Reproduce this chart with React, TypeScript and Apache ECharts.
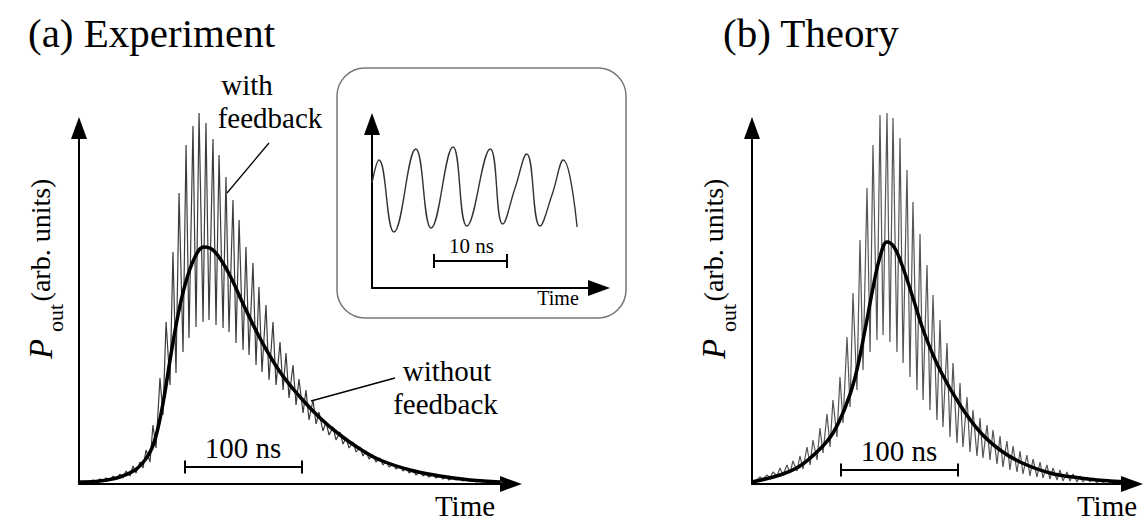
import React, { useEffect, useRef } from "react";
import * as echarts from "echarts";

const FONT = "'Liberation Serif', 'Times New Roman', serif";

// ---------- Panel (a) Experiment : time [ns], P_out [arb. units] ----------
const expTimeMax = 369.2;
const expPowerMax = 89;

// thick curve: without feedback
const expWithoutFeedback: [number, number][] = [
  [0.9, 0.5], [17.9, 0.75], [35.0, 1.75], [47.9, 3.5], [56.4, 6], [62.4, 9], [67.5, 14],
  [72.6, 21.5], [77.8, 31], [83.8, 41], [90.6, 49.75], [99.1, 56.75], [106.8, 59.25],
  [115.4, 58.25], [127.4, 53], [141.9, 44], [156.4, 35.5], [171.8, 28], [188.9, 21.75],
  [206.0, 16.5], [223.1, 12.25], [240.2, 8.75], [257.3, 6], [282.9, 3.5], [308.5, 2],
  [334.2, 1], [359.8, 0.5],
];

// thin curve: with feedback (oscillation maxima)
const expPeaks: [number, number][] = [
  [6.0, 0.75], [12.0, 1.0], [17.9, 1.25], [23.1, 1.5], [29.1, 2.0], [35.0, 2.5],
  [40.2, 3.25], [46.2, 4.5], [52.1, 5.5], [57.3, 8.5], [63.2, 14.75], [69.2, 26.5],
  [74.4, 40.5], [80.3, 58], [85.5, 72.75], [91.5, 84.75], [97.4, 89.5], [102.6, 92.75],
  [108.5, 90.25], [114.5, 86.25], [119.7, 82.25], [125.6, 76.75], [131.6, 71], [136.8, 66],
  [142.7, 59.25], [148.7, 55.25], [153.8, 49.25], [159.8, 44.75], [165.8, 40.5], [171.8, 35.5],
  [176.9, 32.75], [182.9, 29.75], [188.0, 26.25], [194.0, 23.5], [200.0, 21], [205.1, 18],
  [211.1, 15.5], [217.1, 14.25], [223.1, 13], [228.2, 11.5], [234.2, 10.5], [240.2, 9.25],
  [245.3, 8.25], [251.3, 7.25], [257.3, 6.5], [262.4, 5.75], [268.4, 5], [274.4, 4.5],
  [279.5, 4], [285.5, 3.5], [291.5, 3], [296.6, 2.5], [302.6, 2.25], [308.5, 2],
  [313.7, 1.75], [319.7, 1.5], [325.6, 1.25], [330.8, 1.25], [336.8, 1], [342.7, 1],
  [347.9, 0.75], [353.8, 0.75], [359.8, 0.75],
];

// thin curve: with feedback (oscillation minima)
const expTroughs: [number, number][] = [
  [0.9, 0.5], [3.0, 0.5], [8.5, 0.5], [14.5, 0.5], [20.5, 0.75], [26.5, 1], [31.6, 1.25],
  [37.6, 1.5], [43.6, 2], [48.7, 2.75], [54.7, 4], [60.7, 5.5], [65.8, 9], [71.8, 17.25],
  [77.8, 24.75], [82.9, 27.75], [88.9, 33], [94.0, 36.5], [100.0, 39.25], [106.0, 40.5],
  [111.1, 41], [117.1, 39.75], [123.1, 39], [128.2, 38], [134.2, 35.25], [140.2, 33.5],
  [145.3, 32.25], [151.3, 29.75], [156.4, 28], [162.4, 26], [168.4, 24.75], [174.4, 23.5],
  [179.5, 21.5], [185.5, 19.75], [191.5, 17.75], [196.6, 16], [202.6, 15], [208.5, 13.25],
  [213.7, 12.25], [219.7, 11], [225.6, 10], [230.8, 9], [236.8, 8], [242.7, 7],
  [247.9, 6.25], [253.8, 5.5], [259.8, 4.75], [265.0, 4.25], [270.9, 3.75], [276.9, 3.25],
  [282.1, 2.75], [288.0, 2.25], [294.0, 2], [299.1, 1.75], [305.1, 1.5], [311.1, 1.25],
  [316.2, 1], [322.2, 1], [328.2, 0.75], [333.3, 0.75], [339.3, 0.5], [345.3, 0.5],
  [350.4, 0.5], [356.4, 0.5], [362.4, 0.25],
];

const expScaleBar = { from: 90, to: 190, level: 4.25, cap: 1.6, label: "100 ns" };

// ---------- Panel (b) Theory ----------
const thTimeMax = 324.8;
const thPowerMax = 89;

const thWithoutFeedback: [number, number][] = [
  [0, 0.5], [23.9, 2.25], [41.0, 4.5], [58.1, 8.75], [69.2, 12.75], [79.5, 19],
  [88.0, 26.5], [96.6, 38.5], [103.4, 49], [109.4, 56.75], [115.4, 60.5], [121.4, 59.25],
  [128.2, 54.75], [136.8, 47.25], [147.9, 37.25], [160.7, 28.5], [177.8, 19.75],
  [194.9, 13], [212.0, 8.5], [229.1, 5.5], [254.7, 2.75], [280.3, 1.5], [306.0, 0.75],
  [323.1, 0.5],
];

const thPeaks: [number, number][] = [
  [6.8, 1.75], [12.8, 2.25], [17.9, 3], [23.9, 4], [29.9, 4.75], [35.0, 5.75], [41.0, 7],
  [47.0, 9.25], [52.1, 11], [58.1, 14], [64.1, 17.5], [69.2, 21], [75.2, 26.75],
  [81.2, 36.75], [86.3, 47.75], [92.3, 61], [98.3, 74], [103.4, 84.75], [109.4, 92.25],
  [115.4, 92.75], [120.5, 91.5], [126.5, 86.5], [132.5, 78.5], [137.6, 70.5], [143.6, 62.5],
  [149.6, 54.75], [154.7, 47.25], [160.7, 41], [166.7, 35.25], [171.8, 30.25], [177.8, 25.25],
  [183.8, 21.75], [188.9, 18.5], [194.9, 16.5], [200.9, 14.75], [206.0, 13.5], [212.0, 12],
  [217.9, 10.75], [223.1, 9.5], [229.1, 8.25], [235.0, 7.25], [240.2, 6.25], [246.2, 5.5],
  [252.1, 4.75], [257.3, 4], [263.2, 3.5], [269.2, 3], [274.4, 2.5], [280.3, 2],
  [286.3, 1.75], [291.5, 1.5], [297.4, 1.25], [303.4, 1], [308.5, 0.75],
];

const thTroughs: [number, number][] = [
  [0, 0.5], [4.3, 1], [9.4, 1.25], [15.4, 1.5], [21.4, 2], [26.5, 2.25], [32.5, 2.75],
  [38.5, 3.25], [43.6, 3.75], [49.6, 4.75], [55.6, 6], [60.7, 7.75], [66.7, 9.25],
  [72.6, 11.75], [77.8, 15.25], [83.8, 19.25], [89.7, 23.5], [94.9, 28.5], [100.9, 33],
  [106.8, 36], [112.0, 37.25], [117.9, 35.5], [123.9, 33], [129.1, 30.25], [135.0, 26.75],
  [141.0, 23.5], [146.2, 21], [152.1, 18.5], [158.1, 16], [163.2, 14.25], [169.2, 11.75],
  [175.2, 10.25], [180.3, 9.25], [186.3, 8], [192.3, 7], [197.4, 6.5], [203.4, 6],
  [209.4, 5], [214.5, 4.25], [220.5, 3.5], [226.5, 3], [231.6, 2.5], [237.6, 2],
  [243.6, 1.75], [248.7, 1.5], [254.7, 1.25], [260.7, 1], [265.8, 0.75], [271.8, 0.75],
  [277.8, 0.5], [282.9, 0.5], [288.9, 0.5], [294.9, 0.25], [300.0, 0.25], [306.0, 0.25],
];

const thScaleBar = { from: 76, to: 176, level: 3.5, cap: 1.6, label: "100 ns" };

// ---------- Inset: time [ns] ----------
const insetTimeMax = 31.1;
const insetPowerMax = 82;
const insetTrace: [number, number][] = [
  [0, 52.5], [0.96, 64], [3.0, 28], [6.0, 69.5], [8.1, 30], [11.1, 70.5], [13.0, 31],
  [16.2, 69.5], [17.9, 32], [19.6, 50], [21.2, 67], [23.0, 31], [24.7, 47], [26.2, 64],
  [28.1, 30.5],
];
const insetScaleBar = { from: 8.4, to: 18.4, level: 13.5, cap: 3.5, label: "10 ns" };

const byTime = (a: [number, number], b: [number, number]) => a[0] - b[0];
const expWithFeedback = [...expPeaks, ...expTroughs].sort(byTime);
const thWithFeedback = [...thPeaks, ...thTroughs].sort(byTime);

const axisLine = {
  show: true,
  onZero: true,
  symbol: ["none", "triangle"],
  symbolSize: [16, 22],
  lineStyle: { color: "#000", width: 2 },
};

function valueAxis(gridIndex: number, max: number) {
  return {
    type: "value",
    gridIndex,
    min: 0,
    max,
    axisLine,
    axisTick: { show: false },
    axisLabel: { show: false },
    splitLine: { show: false },
  };
}

function scaleBarMark(bar: { from: number; to: number; level: number; cap: number }) {
  return {
    silent: true,
    symbol: ["none", "none"],
    label: { show: false },
    lineStyle: { color: "#000", width: 2, type: "solid" },
    emphasis: { disabled: true },
    data: [
      [{ coord: [bar.from, bar.level] }, { coord: [bar.to, bar.level] }],
      [{ coord: [bar.from, bar.level - bar.cap] }, { coord: [bar.from, bar.level + bar.cap] }],
      [{ coord: [bar.to, bar.level - bar.cap] }, { coord: [bar.to, bar.level + bar.cap] }],
    ],
  };
}

function txt(
  text: string, x: number, y: number, size: number,
  o: { italic?: boolean; rot?: number; align?: string } = {}
) {
  return {
    type: "text",
    x,
    y,
    rotation: o.rot || 0,
    silent: true,
    z: 10,
    style: {
      text,
      fill: "#000",
      fontSize: size,
      fontFamily: FONT,
      fontStyle: o.italic ? "italic" : "normal",
      textAlign: o.align || "center",
      textVerticalAlign: "middle",
    },
  };
}

function leader(x1: number, y1: number, x2: number, y2: number) {
  return { type: "line", silent: true, z: 10, shape: { x1, y1, x2, y2 }, style: { stroke: "#000", lineWidth: 1.3 } };
}

function yLabel(dx: number) {
  const R = Math.PI / 2;
  return [
    txt("P", 40.5 + dx, 349, 33, { italic: true, rot: R }),
    txt("out", 55 + dx, 318, 22, { rot: R }),
    txt("(arb. units)", 40 + dx, 240, 28, { rot: R }),
  ];
}

const option = {
  animation: false,
  backgroundColor: "#fff",
  grid: [
    { left: 79, top: 128, width: 432, height: 356 },
    { left: 752, top: 128, width: 380, height: 356 },
    { left: 372, top: 124, width: 227, height: 164 },
  ],
  xAxis: [valueAxis(0, expTimeMax), valueAxis(1, thTimeMax), valueAxis(2, insetTimeMax)],
  yAxis: [valueAxis(0, expPowerMax), valueAxis(1, thPowerMax), valueAxis(2, insetPowerMax)],
  series: [
    {
      name: "with feedback (experiment)",
      type: "line",
      xAxisIndex: 0,
      yAxisIndex: 0,
      data: expWithFeedback,
      symbol: "none",
      clip: false,
      z: 2,
      lineStyle: { color: "#3c3c3c", width: 1.2 },
    },
    {
      name: "without feedback (experiment)",
      type: "line",
      xAxisIndex: 0,
      yAxisIndex: 0,
      data: expWithoutFeedback,
      symbol: "none",
      smooth: 0.4,
      z: 3,
      lineStyle: { color: "#000", width: 3.5 },
      markLine: scaleBarMark(expScaleBar),
    },
    {
      name: "with feedback (theory)",
      type: "line",
      xAxisIndex: 1,
      yAxisIndex: 1,
      data: thWithFeedback,
      symbol: "none",
      clip: false,
      z: 2,
      lineStyle: { color: "#555", width: 1.2 },
    },
    {
      name: "without feedback (theory)",
      type: "line",
      xAxisIndex: 1,
      yAxisIndex: 1,
      data: thWithoutFeedback,
      symbol: "none",
      smooth: 0.4,
      z: 3,
      lineStyle: { color: "#000", width: 3.5 },
      markLine: scaleBarMark(thScaleBar),
    },
    {
      name: "inset",
      type: "line",
      xAxisIndex: 2,
      yAxisIndex: 2,
      data: insetTrace,
      symbol: "none",
      smooth: 0.45,
      z: 3,
      lineStyle: { color: "#333", width: 1.4 },
      markLine: scaleBarMark(insetScaleBar),
    },
  ],
  graphic: [
    {
      type: "rect",
      silent: true,
      z: 0,
      shape: { x: 337, y: 68, width: 289, height: 250, r: 28 },
      style: { fill: "none", stroke: "#777", lineWidth: 1.5 },
    },
    txt("(a) Experiment", 28, 33, 41, { align: "left" }),
    txt("(b) Theory", 723, 33, 41, { align: "left" }),
    txt("with", 247, 84.5, 29),
    txt("feedback", 270, 117.5, 29),
    txt("without", 447, 370.5, 29),
    txt("feedback", 445.5, 403.5, 29),
    leader(227, 193, 269, 143),
    leader(311, 401, 395, 378),
    txt(expScaleBar.label, 243, 447.5, 29),
    txt(thScaleBar.label, 899, 450.5, 29),
    txt(insetScaleBar.label, 471.5, 246, 21),
    txt("Time", 465, 505.5, 29),
    txt("Time", 1107, 505.5, 29),
    txt("Time", 558, 297.5, 20),
    ...yLabel(0),
    ...yLabel(673),
  ],
};

export default function App() {
  const ref = useRef<HTMLDivElement>(null);
  useEffect(() => {
    if (!ref.current) return;
    const chart = echarts.init(ref.current, null, { renderer: "svg" });
    chart.setOption(option as any);
    return () => chart.dispose();
  }, []);
  return (
    <div
      ref={ref}
      style={{ position: "fixed", left: 0, top: 0, width: 1147, height: 523, background: "#fff" }}
    />
  );
}
